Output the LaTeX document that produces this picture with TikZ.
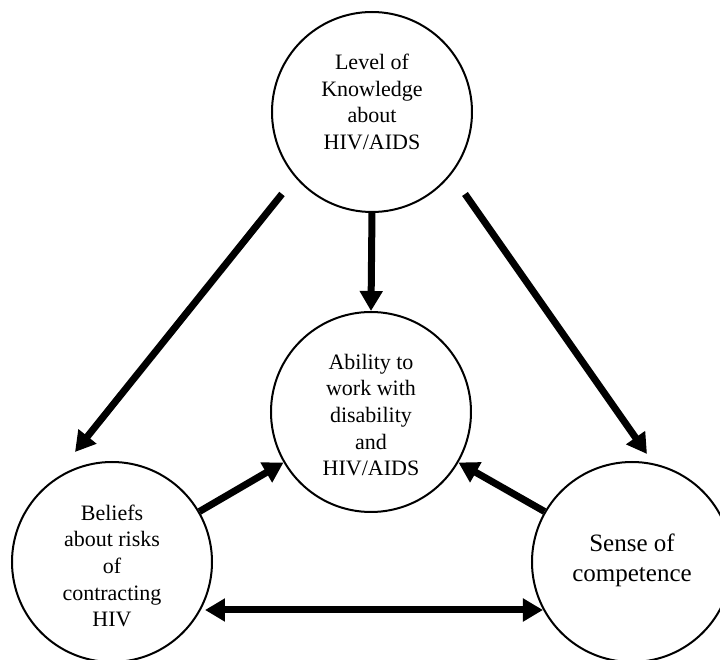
\documentclass[tikz,border=0pt]{standalone}
\usepackage{fontspec}
\setmainfont{Liberation Serif}
\usetikzlibrary{arrows.meta,calc}
\tikzset{
  circ/.style={draw, circle, line width=1pt, minimum size=100pt, inner sep=0pt},
  txt/.style={align=center, font=\fontsize{11}{13.35}\selectfont},
  bigtxt/.style={align=center, font=\fontsize{12.5}{15}\selectfont},
  arr/.style={line width=3.5pt, -{Triangle[length=10pt,width=11pt]}},
  darr/.style={line width=3.5pt, {Triangle[length=10pt,width=11pt]}-{Triangle[length=10pt,width=11pt]}},
}
\begin{document}
\begin{tikzpicture}[x=0.5pt,y=0.5pt]
\useasboundingbox (0,0) rectangle (720,660);
\node[circ, label={[txt, yshift=5pt]center:{Level of\\Knowledge\\about\\HIV/AIDS}}] (top) at (372,548) {};
\node[circ, label={[txt, yshift=-1.5pt]center:{Ability to\\work with\\disability\\and\\HIV/AIDS}}] (mid) at (371,248) {};
\node[circ, label={[txt, yshift=-2pt]center:{Beliefs\\about risks\\of\\contracting\\HIV}}] (left) at (112,98) {};
\node[circ, label={[bigtxt, yshift=1pt]center:{Sense of\\competence}}] (right) at (632,98) {};
\draw[arr] ($(top)+(-90,-82)$) -- ($(left)+(-37,110)$);
\draw[arr] ($(top)+(93,-82)$) -- ($(right)+(15,108)$);
\draw[arr] (top.south) -- (mid.north);
\draw[arr] (left.30) -- (mid.210);
\draw[arr] (right.150) -- (mid.330);
\draw[darr] ($(left)+(93,-48)$) -- ($(right)+(-89,-48)$);
\end{tikzpicture}
\end{document}
